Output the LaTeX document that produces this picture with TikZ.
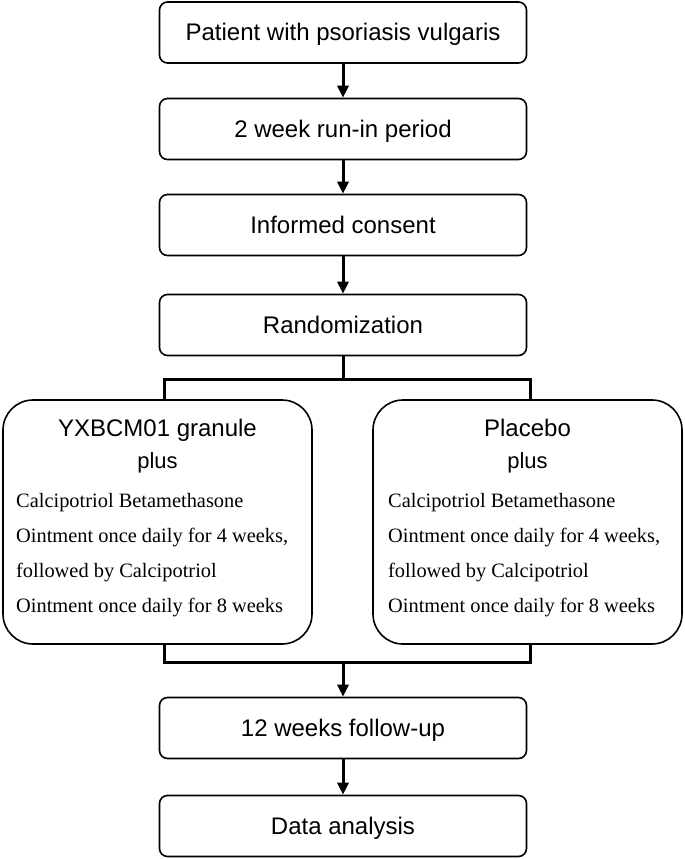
\documentclass[tikz,border=0pt]{standalone}
\usepackage{fontspec}
\setmainfont{Liberation Serif}
\setsansfont{Liberation Sans}
\usetikzlibrary{arrows.meta}

\tikzset{
	stage/.style={draw, line width=1.6pt, rounded corners=8pt,
		minimum width=367pt, minimum height=61pt,
		text height=17pt, text depth=0pt,
		font=\sffamily\fontsize{24}{28}\selectfont},
	arm/.style={draw, line width=1.6pt, rounded corners=30pt,
		minimum width=309pt, minimum height=244pt},
	armtitle/.style={anchor=base, inner sep=0pt, font=\sffamily\fontsize{24}{28}\selectfont},
	plustext/.style={anchor=base, inner sep=0pt, font=\sffamily\fontsize{22}{26}\selectfont},
	regimen/.style={anchor=base west, align=left, inner sep=0pt,
		font=\fontsize{20.4}{35}\selectfont},
	flow/.style={line width=3pt, -{Triangle[length=12pt,width=11pt]}},
	bus/.style={line width=3pt}
}

\begin{document}
\begin{tikzpicture}[x=1pt, y=-1pt]
	\useasboundingbox (0,0) rectangle (685,859);

	% main column
	\node[stage] (patient) at (343,32.5) {Patient with psoriasis vulgaris};
	\node[stage] (runin) at (343,129) {2 week run-in period};
	\node[stage] (consent) at (343,225) {Informed consent};
	\node[stage] (random) at (343,325) {Randomization};

	% the two arms (regimen text sits on its last baseline)
	\node[arm] (armA) at (157.5,522) {};
	\node[arm] (armB) at (527.5,522) {};
	\node[armtitle] (titleA) at (157.5,436) {YXBCM01 granule};
	\node[plustext] (plusA) at (157.5,468) {plus};
	\node[regimen] (doseA) at (16,612) {Calcipotriol Betamethasone\\
		Ointment once daily for 4 weeks,\\
		followed by Calcipotriol\\
		Ointment once daily for 8 weeks};
	\node[armtitle] (titleB) at (527.5,436) {Placebo};
	\node[plustext] (plusB) at (527.5,468) {plus};
	\node[regimen] (doseB) at (388,612) {Calcipotriol Betamethasone\\
		Ointment once daily for 4 weeks,\\
		followed by Calcipotriol\\
		Ointment once daily for 8 weeks};

	\node[stage] (followup) at (343,728) {12 weeks follow-up};
	\node[stage] (analysis) at (343,826) {Data analysis};

	\coordinate (splitL) at (164,379);
	\coordinate (splitR) at (530,379);
	\coordinate (joinL) at (164,662);
	\coordinate (joinR) at (530,662);

	\draw[flow] (patient) -- (runin);
	\draw[flow] (runin) -- (consent);
	\draw[flow] (consent) -- (random);
	\draw[bus] (random.south) -- (random.south |- splitL);
	\draw[bus] (armA.north -| splitL) -- (splitL) -- (splitR) -- (armB.north -| splitR);
	\draw[bus] (armA.south -| joinL) -- (joinL) -- (joinR) -- (armB.south -| joinR);
	\draw[flow] (followup.north |- joinL) -- (followup.north);
	\draw[flow] (followup) -- (analysis);
\end{tikzpicture}
\end{document}
